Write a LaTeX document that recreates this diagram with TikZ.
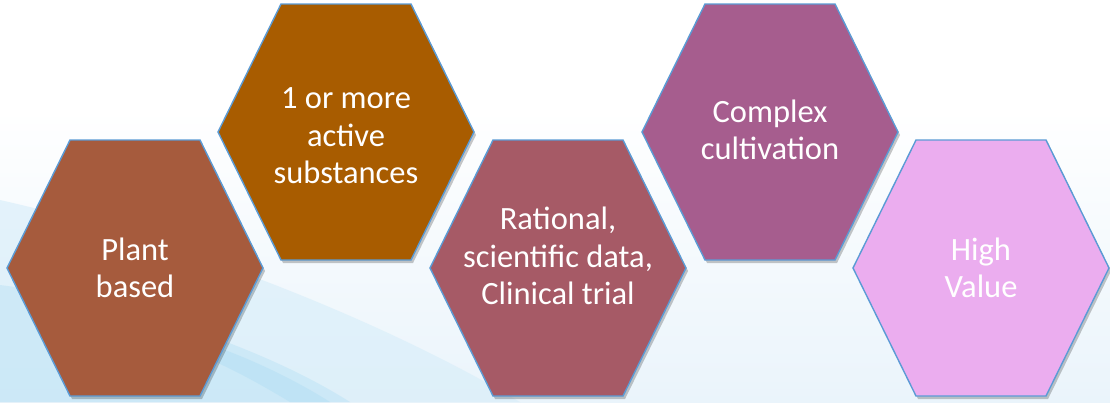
\documentclass[tikz,border=0pt]{standalone}
\usepackage{fontspec}
\setmainfont{Carlito}
\usetikzlibrary{shadows}
\definecolor{hexA}{HTML}{A65B3D}
\definecolor{hexB}{HTML}{A85C00}
\definecolor{hexC}{HTML}{A65A66}
\definecolor{hexD}{HTML}{A65D8E}
\definecolor{hexE}{HTML}{EBADEF}
\definecolor{hexborder}{HTML}{5B9BD5}
\definecolor{bgblue}{HTML}{EAF4FB}
\definecolor{swooshA}{HTML}{D6EDF9}
\definecolor{swooshB}{HTML}{B3DFF4}
\tikzset{
  hexcell/.style={draw=hexborder, line width=1.4pt, line join=miter,
    drop shadow={shadow xshift=2pt, shadow yshift=-3pt, opacity=0.22, fill=black}},
  hexlabel/.style={text=white, align=center, inner sep=0pt,
    font=\fontsize{32.5}{37.5}\selectfont}
}
\begin{document}
\begin{tikzpicture}[x=1pt,y=-1pt]
\useasboundingbox (0,0) rectangle (1110,402);
% background
\fill[white] (0,0) rectangle (1110,402);
\fill[top color=white, bottom color=bgblue] (0,110) rectangle (1110,402);
\fill[swooshA, opacity=0.6] (0,200) .. controls (200,245) and (400,330) .. (520,402) -- (0,402) -- cycle;
\fill[swooshB, opacity=0.4] (0,285) .. controls (120,300) and (260,345) .. (350,402) -- (0,402) -- cycle;
\fill[swooshB, opacity=0.5] (150,330) .. controls (200,335) and (280,370) .. (330,402) -- (290,402) .. controls (250,378) and (200,350) .. (150,340) -- cycle;
% hexagons
\foreach \cx/\cy/\col in {135/268/hexA, 346/132/hexB, 558/268/hexC, 770/132/hexD, 981/268/hexE}{
  \draw[hexcell, fill=\col, shift={(\cx,\cy)}]
    (-128,0) -- (-65,-128) -- (65,-128) -- (128,0) -- (65,128) -- (-65,128) -- cycle;
}
% labels
\node[hexlabel] (plant) at (135,268) {Plant\\based};
\node[hexlabel] (active) at (346,136) {1 or more\\active\\substances};
\node[hexlabel] (rational) at (558,256) {Rational,\\scientific data,\\Clinical trial};
\node[hexlabel] (complex) at (770,130) {Complex\\cultivation};
\node[hexlabel] (high) at (981,268) {High\\Value};
\end{tikzpicture}
\end{document}
